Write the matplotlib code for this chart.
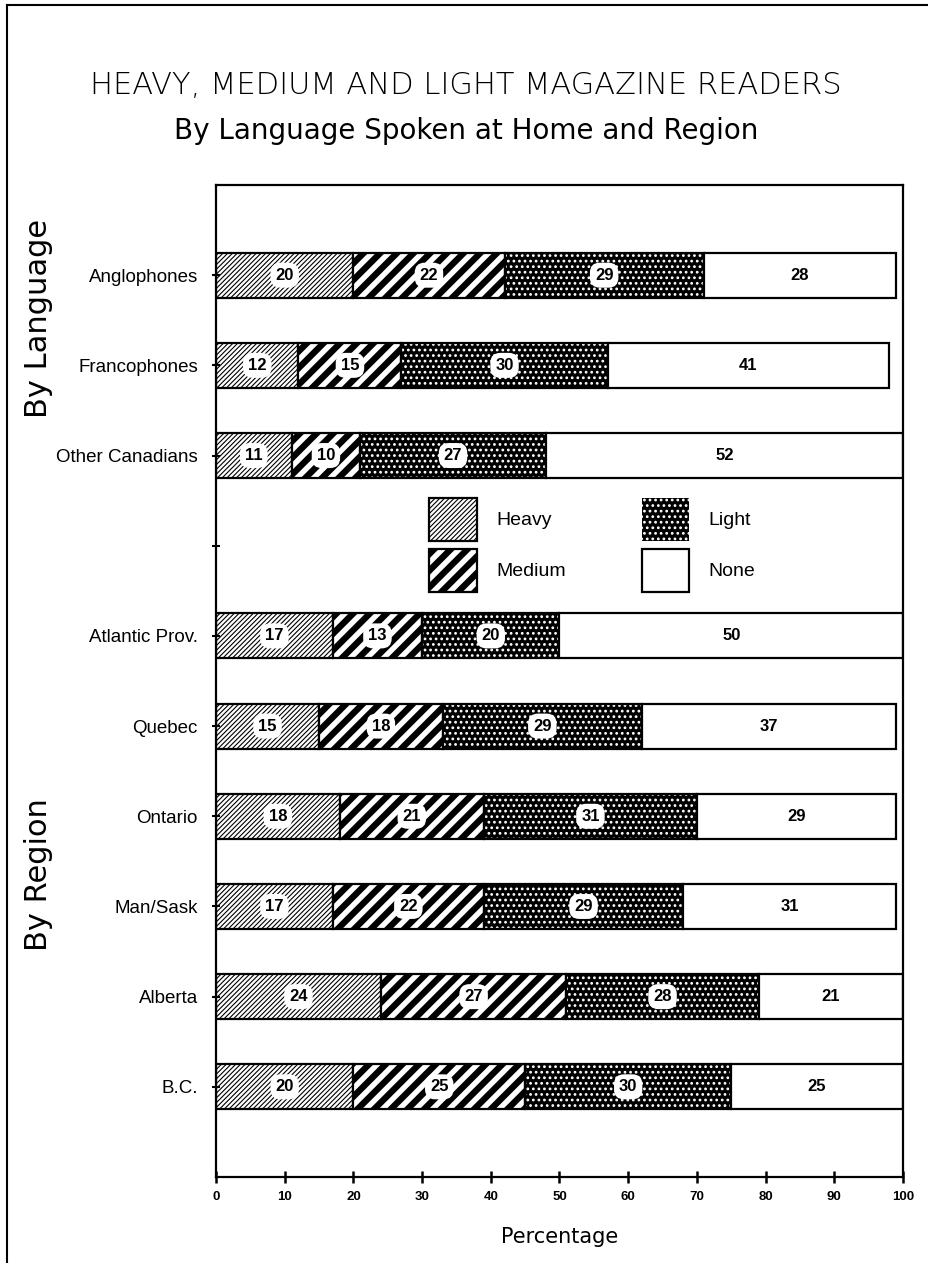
import numpy as np
import matplotlib
matplotlib.use("Agg")
import matplotlib.pyplot as plt
from matplotlib import font_manager as fm
from matplotlib.lines import Line2D

# ---------------- data ----------------
categories = ["Anglophones", "Francophones", "Other Canadians",
              "Atlantic Prov.", "Quebec", "Ontario", "Man/Sask", "Alberta", "B.C."]
heavy = [20, 12, 11, 17, 15, 18, 17, 24, 20]
medium = [22, 15, 10, 13, 18, 21, 22, 27, 25]
light = [29, 30, 27, 20, 29, 31, 29, 28, 30]
none_ = [28, 41, 52, 50, 37, 29, 31, 21, 25]
series_names = ["Heavy", "Medium", "Light", "None"]
x_ticks = list(range(0, 101, 10))

title = "HEAVY, MEDIUM AND LIGHT MAGAZINE READERS"
subtitle = "By Language Spoken at Home and Region"
group_labels = ["By Language", "By Region"]
x_label = "Percentage"

# ---------------- layout ----------------
names = {f.name for f in fm.fontManager.ttflist}
def pick(*cands):
    for c in cands:
        if c in names:
            return c
    return "DejaVu Sans"
F_LABEL = pick("Liberation Sans", "Arial")
F_NARROW = pick("Liberation Sans Narrow", "Liberation Sans")
F_WIDE = "DejaVu Sans"

W, H = 929, 1263
fig = plt.figure(figsize=(W / 100, H / 100), dpi=100)
ax = fig.add_axes([216 / W, 1 - 1177 / H, (903 - 216) / W, (1177 - 185) / H])

slots = [1, 2, 3, 5, 6, 7, 8, 9, 10]
bar_h = 0.5
heavy_a = np.array(heavy)
medium_a = np.array(medium)
light_a = np.array(light)
none_a = np.array(none_)
edge_lw = 1.6

HLW_HEAVY, HLW_MED, HLW_LIGHT = 0.8, 4.6, 1.2

def set_hlw(patches, lw):
    for p in patches:
        if hasattr(p, "set_hatch_linewidth"):
            p.set_hatch_linewidth(lw)

with plt.rc_context({"hatch.linewidth": HLW_HEAVY}):
    b_heavy = ax.barh(slots, heavy_a, height=bar_h, left=0, facecolor="white",
                      edgecolor="black", hatch="///////", linewidth=edge_lw)
set_hlw(b_heavy.patches, HLW_HEAVY)
with plt.rc_context({"hatch.linewidth": HLW_MED}):
    b_med = ax.barh(slots, medium_a, height=bar_h, left=heavy_a, facecolor="white",
                    edgecolor="black", hatch="//", linewidth=edge_lw)
set_hlw(b_med.patches, HLW_MED)
with plt.rc_context({"hatch.linewidth": HLW_LIGHT}):
    b_light_fill = ax.barh(slots, light_a, height=bar_h, left=heavy_a + medium_a,
                           facecolor="black", edgecolor="white", hatch="...",
                           linewidth=0)
set_hlw(b_light_fill.patches, HLW_LIGHT)
b_light = ax.barh(slots, light_a, height=bar_h, left=heavy_a + medium_a, fill=False,
                  edgecolor="black", linewidth=edge_lw)
b_none = ax.barh(slots, none_a, height=bar_h, left=heavy_a + medium_a + light_a,
                 facecolor="white", edgecolor="black", linewidth=edge_lw)

blob = dict(boxstyle="round,pad=0.3,rounding_size=0.6", facecolor="white", edgecolor="none")
for cont in (b_heavy, b_med, b_light, b_none):
    ax.bar_label(cont, labels=[str(v) for v in cont.datavalues], label_type="center",
                 fontsize=12, fontfamily=F_NARROW, fontweight="bold", bbox=blob)

ax.set_xlim(0, 100)
ax.set_ylim(11, 0)
ax.set_xticks(x_ticks)
ax.set_xticklabels([str(t) for t in x_ticks], fontsize=9.5, fontweight="bold",
                   fontfamily=F_NARROW)
ytick_pos = [1, 2, 3, 4, 5, 6, 7, 8, 9, 10]
ytick_lab = categories[:3] + [""] + categories[3:]
ax.set_yticks(ytick_pos)
ax.set_yticklabels(ytick_lab, fontsize=13.5, fontfamily=F_LABEL)
ax.tick_params(axis="y", direction="inout", length=6, width=1.5, pad=10)
ax.tick_params(axis="x", direction="inout", length=8, width=1.8, pad=6)
for s in ax.spines.values():
    s.set_linewidth(1.6)

leg = ax.legend(handles=[b_heavy, b_med, b_light_fill, b_none], labels=series_names,
                ncol=2, loc="upper left", bbox_to_anchor=(0.31, 0.6845),
                frameon=False, borderpad=0, borderaxespad=0,
                prop={"family": F_LABEL, "size": 14},
                handlelength=2.45, handleheight=3.0, handletextpad=1.0,
                columnspacing=3.9, labelspacing=0.45)
hl = leg.legend_handles
for h in hl:
    h.set_linewidth(edge_lw)
set_hlw([hl[0]], HLW_HEAVY)
set_hlw([hl[1]], HLW_MED)
set_hlw([hl[2]], HLW_LIGHT)
hl[2].set_linewidth(0)

fig.text(466 / W, 1 - 85 / H, title, ha="center", va="center",
         fontsize=22, fontfamily=F_WIDE, fontweight="light")
fig.text(466 / W, 1 - 131 / H, subtitle, ha="center", va="center",
         fontsize=20, fontfamily=F_WIDE)
fig.text(39 / W, 1 - 318 / H, group_labels[0], rotation=90, ha="center", va="center",
         fontsize=22, fontfamily=F_WIDE)
fig.text(39 / W, 1 - 875 / H, group_labels[1], rotation=90, ha="center", va="center",
         fontsize=22, fontfamily=F_WIDE)
fig.text(560 / W, 1 - 1237 / H, x_label, ha="center", va="center",
         fontsize=15, fontfamily=F_WIDE)

# page border (left and top)
fig.add_artist(Line2D([7 / W, 7 / W], [0, 1 - 5 / H], transform=fig.transFigure,
                      color="black", linewidth=1.5))
fig.add_artist(Line2D([7 / W, 1], [1 - 5 / H, 1 - 5 / H], transform=fig.transFigure,
                      color="black", linewidth=1.5))

fig.savefig("out.png", dpi=100, facecolor="white")
